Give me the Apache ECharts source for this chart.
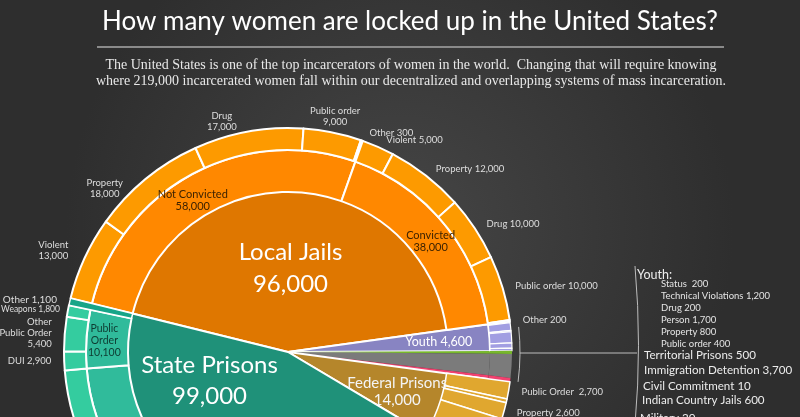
<!DOCTYPE html>
<html><head><meta charset="utf-8">
<script src="https://cdn.jsdelivr.net/npm/echarts@6/dist/echarts.min.js"></script>
<style>html,body{margin:0;padding:0;background:#3a3a3a;}#c{width:800px;height:417px;}</style>
</head><body><div id="c"></div>
<script>
// ---- data ----
const topNames = ['Local Jails','Youth','Territorial Prisons','Immigration Detention','Civil Commitment','Indian Country Jails','Military','Federal Prisons','State Prisons'];
const topValues = [96000,4600,500,3700,10,600,20,14000,99000];

const jailNames = ['Not Convicted','Convicted'];
const jailValues = [58000,38000];
const notConvictedNames = ['Violent','Property','Drug','Public order','Other'];
const notConvictedValues = [13000,18000,17000,9000,300];
const convictedNames = ['Violent','Property','Drug','Public order','Other'];
const convictedValues = [5000,12000,10000,10000,200];

const youthNames = ['Status','Technical Violations','Drug','Person','Property','Public order'];
const youthValues = [200,1200,200,1700,800,400];

const federalNames = ['Public Order','Violent','Property','Drug','Weapons'];
const federalValues = [2700,600,2600,7500,600];

const stateNames = ['Violent','Property','Drug','Public Order','Other'];
const stateValues = [37000,25000,25000,10100,1100];
const statePONames = ['DUI','Other Public Order','Weapons'];
const statePOValues = [2900,5400,1800];

const titleText = 'How many women are locked up in the United States?';
const subtitleLines = [
  'The United States is one of the top incarcerators of women in the world.  Changing that will require knowing',
  'where 219,000 incarcerated women fall within our decentralized and overlapping systems of mass incarceration.'
];

// ---- helpers ----
const fmt = v => v.toLocaleString('en-US');
const sum = a => a.reduce((s,v)=>s+v,0);
const scaleTo = (vals, parent) => { const s = sum(vals); return vals.map(v => v*parent/s); };
const FONT = 'Lato';
const CTR = [288, 352];
const T = 'rgba(0,0,0,0)';
const hidden = (name, value) => ({name, value, itemStyle:{color:T, borderWidth:0}, label:{show:false}});

const innerColors = ['#df7700','#8884c2','#77b72b','#7b7b7b','#bbbbbb','#f1416f','#999999','#b5862b','#1f9179'];
const small = [2,3,4,5,6];

// ring 1: top level
const ring1 = topNames.map((n,i) => ({
  name:n, value:topValues[i],
  itemStyle:{color:innerColors[i], borderWidth: small.includes(i) ? 0 : 2},
  label:{show:false}
}));
ring1[0].label = {show:true, position:'inside', formatter:'Local Jails\n' + fmt(topValues[0]), fontSize:24, lineHeight:32, color:'#fff'};
ring1[1].label = {show:true, position:'inside', formatter:'Youth ' + fmt(topValues[1]), fontSize:12.5, color:'#fff'};
ring1[7].label = {show:true, position:'inside', formatter:'Federal Prisons\n' + fmt(topValues[7]), fontSize:15, lineHeight:17, color:'#f4f4f4'};
ring1[8].label = {show:true, position:'inside', formatter:'State Prisons\n' + fmt(topValues[8]), fontSize:24, lineHeight:31, color:'#fff'};
const off1 = {0:{dx:-3,dy:20}, 1:{dx:47,dy:-3}, 7:{dx:11,dy:5}, 8:{dx:-39,dy:-67}};

// scaled children so that each ring fills its parent
const stateScaled = scaleTo(stateValues, topValues[8]);
const federalScaled = scaleTo(federalValues, topValues[7]);
const youthScaled = scaleTo(youthValues, topValues[1]);
const jailScaled = scaleTo(jailValues, topValues[0]);

// ring 2: middle
const ring2 = [];
jailNames.forEach((n,i) => ring2.push({name:n, value:jailScaled[i], itemStyle:{color:'#ff8800', borderWidth:2},
  label:{show:true, position:'inside', formatter:n + '\n' + fmt(jailValues[i]), fontSize:11, lineHeight:12, color:'#3c2200'}}));
for (let i=1;i<=7;i++) ring2.push(hidden(topNames[i], topValues[i]));
stateNames.forEach((n,i) => {
  if (n === 'Other') ring2.push(hidden('state-other', stateScaled[i]));
  else ring2.push({name:'state-'+n, value:stateScaled[i], itemStyle:{color:'#30bb9b', borderWidth:2},
    label: n === 'Public Order' ? {show:true, position:'inside', formatter:'Public\nOrder\n' + fmt(stateValues[i]), fontSize:10.5, lineHeight:12, color:'#0e3b31'} : {show:false}});
});
const off2 = {0:{dx:-8,dy:10}, 1:{dx:0,dy:6}};

// ring 3: outer
const outerLbl = {show:true, position:'outside', fontSize:9.5, lineHeight:11, color:'#dedede'};
const ring3 = [];
const ncScaled = scaleTo(notConvictedValues, jailScaled[0]);
notConvictedNames.forEach((n,i) => ring3.push({name:'nc-'+n, value:ncScaled[i], itemStyle:{color:'#fd9a00', borderWidth:2},
  label:Object.assign({}, outerLbl, {formatter: n === 'Other' ? n + ' ' + fmt(notConvictedValues[i]) : n + '\n' + fmt(notConvictedValues[i])})}));
const cvScaled = scaleTo(convictedValues, jailScaled[1]);
convictedNames.forEach((n,i) => ring3.push({name:'cv-'+n, value:cvScaled[i], itemStyle:{color:'#fd9a00', borderWidth:2},
  label:Object.assign({}, outerLbl, {formatter: n + ' ' + fmt(convictedValues[i])})}));
youthNames.forEach((n,i) => ring3.push({name:'y-'+n, value:youthScaled[i], itemStyle:{color:'#a29ee2', borderWidth:1.2}, label:{show:false}}));
small.forEach(i => ring3.push({name:topNames[i], value:topValues[i], itemStyle:{color:innerColors[i], borderWidth:0}, label:{show:false}}));
ring3.push(hidden('federal', topValues[7]));
const poScaled = scaleTo(statePOValues, stateScaled[3]);
stateNames.forEach((n,i) => {
  if (n === 'Other') ring3.push(hidden('state-other', stateScaled[i]));
  else if (n === 'Public Order') {
    statePONames.forEach((m,j) => {
      let lbl;
      if (m === 'Other Public Order') lbl = {formatter:'Other\nPublic Order\n' + fmt(statePOValues[j])};
      else if (m === 'Weapons') lbl = {formatter:m + ' ' + fmt(statePOValues[j]), fontSize:8.5};
      else lbl = {formatter: m + ' ' + fmt(statePOValues[j])};
      ring3.push({name:'po-'+m, value:poScaled[j], itemStyle:{color:'#34cc9f', borderWidth:2},
        label:Object.assign({}, outerLbl, lbl)});
    });
  } else ring3.push({name:'so-'+n, value:stateScaled[i], itemStyle:{color:'#34cc9f', borderWidth:2}, label:{show:false}});
});
const off3 = {
  'nc-Violent':{align:'center', dx:-19, dy:-4},
  'nc-Property':{align:'center', dx:-31, dy:16},
  'nc-Drug':{align:'center', dx:-20, dy:-2},
  'nc-Public order':{align:'center', dx:-4, dy:-8},
  'po-Weapons':{dx:5, dy:0}
};

// ring 4: federal children and state "other" spanning middle+outer
const ring4 = [];
for (let i=0;i<=6;i++) ring4.push(hidden(topNames[i], topValues[i]));
federalNames.forEach((n,i) => ring4.push({name:'f-'+n, value:federalScaled[i], itemStyle:{color:'#e0a72f', borderWidth:1.5},
  label:Object.assign({}, outerLbl, {formatter: n + (i === 0 ? '  ' : ' ') + fmt(federalValues[i])})}));
stateNames.forEach((n,i) => {
  if (n === 'Other') ring4.push({name:'state-other', value:stateScaled[i], itemStyle:{color:'#17a588', borderWidth:1.5},
    label:Object.assign({}, outerLbl, {formatter:'Other ' + fmt(stateValues[i]), fontSize:10})});
  else ring4.push(hidden('s4-'+n, stateScaled[i]));
});

const basePie = {
  type:'pie', center:CTR, startAngle:166.1, clockwise:true, avoidLabelOverlap:false,
  silent:true, animation:false,
  itemStyle:{borderColor:'#ffffff'},
  label:{fontFamily:FONT},
  labelLine:{show:false, length:8, length2:0}
};

// title, annotations and right-hand list
const graphics = [
  {type:'text', x:410, y:22, style:{text:titleText, fill:'#ffffff', font:'26px Lato', textAlign:'center', textVerticalAlign:'middle'}},
  {type:'line', shape:{x1:97,y1:47,x2:724,y2:47}, style:{stroke:'#8a8a8a', lineWidth:2}},
  {type:'text', x:411, y:65, style:{text:subtitleLines[0], fill:'#e8e8e8', font:'14px "Liberation Serif"', textAlign:'center', textVerticalAlign:'middle'}},
  {type:'text', x:411, y:81, style:{text:subtitleLines[1], fill:'#e8e8e8', font:'14px "Liberation Serif"', textAlign:'center', textVerticalAlign:'middle'}},
  {type:'arc', shape:{cx:CTR[0], cy:CTR[1], r:232, startAngle:-6.2*Math.PI/180, endAngle:7.4*Math.PI/180, clockwise:true}, style:{stroke:'#bdbdbd', lineWidth:1, fill:null}},
  {type:'line', shape:{x1:520,y1:353,x2:637,y2:353}, style:{stroke:'#bdbdbd', lineWidth:1}},
  {type:'bezierCurve', shape:{x1:635,y1:266,cpx1:642,cpy1:345,x2:635,y2:425}, style:{stroke:'#bdbdbd', lineWidth:1, fill:null}},
  {type:'text', left:637, top:268, style:{text:'Youth:', fill:'#ececec', font:'12.5px Lato'}}
];
youthNames.forEach((n,i) => graphics.push({type:'text', left:661, top:279 + i*12,
  style:{text: n + (n === 'Status' ? '  ' : ' ') + fmt(youthValues[i]), fill:'#e4e4e4', font:'9.5px Lato'}}));
const listX = [644,644,643,642,640];
const listY = [349,364,380,394,412];
small.forEach((idx,k) => graphics.push({type:'text', left:listX[k], top:listY[k],
  style:{text: topNames[idx] + ' ' + fmt(topValues[idx]), fill:'#ececec', font:'11.6px Lato'}}));

const chart = echarts.init(document.getElementById('c'));
chart.setOption({
  animation:false,
  backgroundColor:{type:'radial', x:0.5, y:0.55, r:0.8, colorStops:[{offset:0,color:'#464646'},{offset:1,color:'#2e2e2e'}]},
  graphic:graphics,
  series:[
    Object.assign({}, basePie, {radius:[0,202], data:ring1, labelLayout:p => off1[p.dataIndex] || {}}),
    Object.assign({}, basePie, {radius:[160,202], data:ring2, labelLayout:p => off2[p.dataIndex] || {}}),
    Object.assign({}, basePie, {radius:[202,224], data:ring3, labelLayout:p => off3[ring3[p.dataIndex].name] || {}}),
    Object.assign({}, basePie, {radius:[160,224], data:ring4})
  ]
});
</script></body></html>
